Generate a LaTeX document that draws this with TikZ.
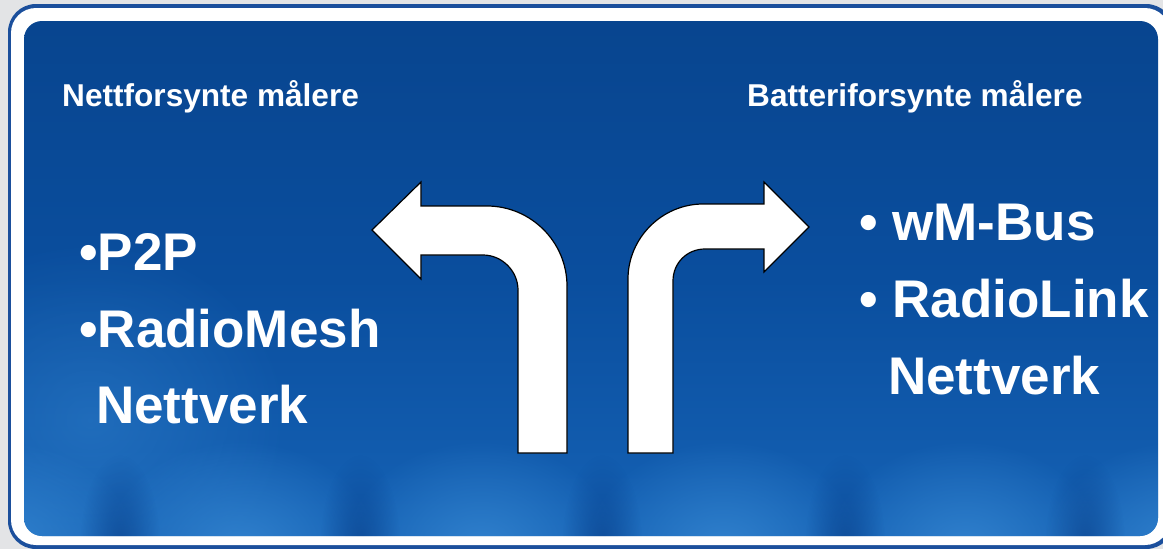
\documentclass[tikz,border=0pt]{standalone}
\usepackage{fontspec}
\setmainfont{Liberation Sans}
\usetikzlibrary{fadings}

\definecolor{bggrey}{HTML}{E3E4E6}
\definecolor{signedge}{HTML}{1B4F9C}
\definecolor{signtop}{HTML}{08458F}
\definecolor{signmid}{HTML}{0A4E9E}
\definecolor{signbottom}{HTML}{1562B5}
\definecolor{signglow}{HTML}{3A8CD6}
\definecolor{signdark}{HTML}{073C86}

\tikzfading[name=glowfade, inner color=transparent!25, outer color=transparent!100]

\tikzstyle{heading} = [
    anchor=base west,
    inner sep=0pt,
    text=white,
    font=\bfseries\fontsize{31.6}{31.6}\selectfont
]
\tikzstyle{item} = [
    anchor=base west,
    inner sep=0pt,
    text=white,
    font=\bfseries\fontsize{53}{53}\selectfont
]
\tikzstyle{turnarrow} = [
    fill=white,
    draw=black,
    line width=1.2pt,
    line join=miter
]

\begin{document}
\begin{tikzpicture}[x=1pt, y=-1pt]

\useasboundingbox (0,0) rectangle (1163,549);
\clip (0,0) rectangle (1163,549);
\fill[bggrey] (0,0) rectangle (1163,549);

% sign plate
\fill[signedge, rounded corners=28pt] (8,4) rectangle (1174,549);
\fill[white, rounded corners=25pt] (11,8) rectangle (1170,545);
\shade[top color=signtop, bottom color=signbottom, middle color=signmid,
    rounded corners=18pt] (24,21) rectangle (1158,536);

% glows at the bottom
\begin{scope}
\clip[rounded corners=18pt] (24,21) rectangle (1158,536);
\fill[signglow, path fading=glowfade, opacity=0.5] (90,420) ellipse (200 and 180);
\foreach \gx in {0,240,481,723,965,1180}
    \fill[signglow, path fading=glowfade] (\gx,550) ellipse (140 and 110);
\foreach \dx in {120,360,602,845,1085}
    \fill[signdark, path fading=glowfade, opacity=0.8] (\dx,545) ellipse (40 and 90);
\end{scope}

% left turn
\filldraw[turnarrow] (372,230) -- (421,182) -- (421,206) -- (487,206)
    .. controls (531,206) and (567,242) .. (567,286)
    -- (567,453) -- (518,453) -- (518,290)
    .. controls (518,271) and (502,255) .. (483,255)
    -- (421,255) -- (421,279) -- cycle;

% right turn
\filldraw[turnarrow] (809,227) -- (764,182) -- (764,204) -- (703,204)
    .. controls (662,204) and (628,238) .. (628,279)
    -- (628,453) -- (673,453) -- (673,281)
    .. controls (673,263) and (687,249) .. (705,249)
    -- (764,249) -- (764,272) -- cycle;

\node (nett) [heading] at (62,106) {Nettforsynte målere};
\node (batt) [heading] at (747,106) {Batteriforsynte målere};

\node (ptop) [item] at (79,270) {•P2P};
\node (mesh) [item] at (79,347) {•RadioMesh};
\node (nettv) [item] at (96,423) {Nettverk};

\node (wmbus) [item] at (859,240) {• wM-Bus};
\node (rlink) [item] at (859,317) {• RadioLink};
\node (battv) [item] at (888,394) {Nettverk};

\end{tikzpicture}
\end{document}
